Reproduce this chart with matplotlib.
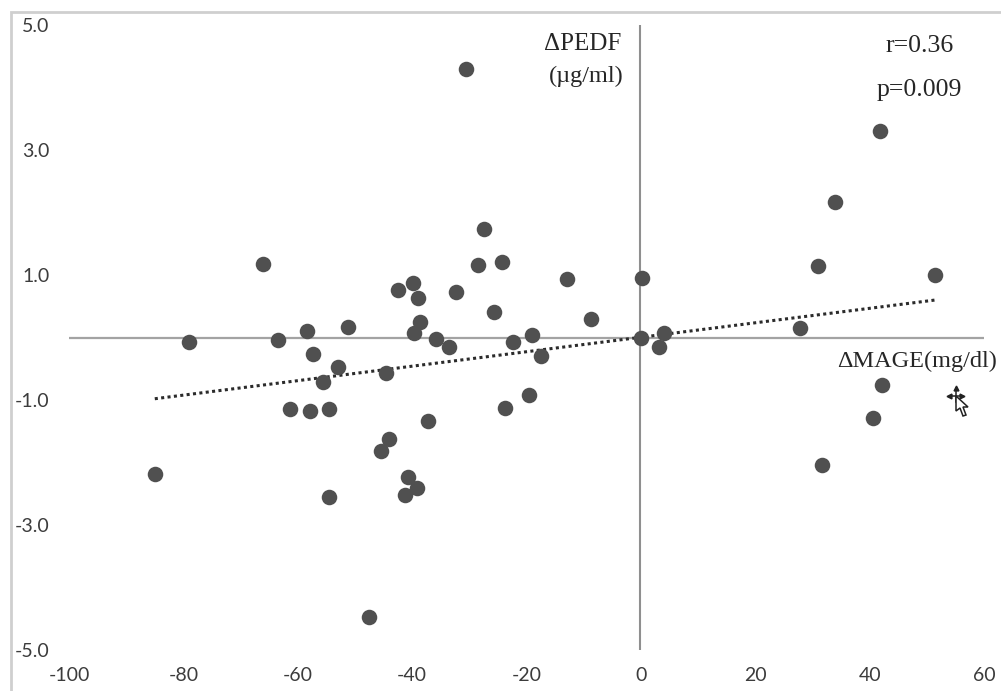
import matplotlib
matplotlib.use("Agg")
import matplotlib.pyplot as plt
from matplotlib.patches import Polygon, Rectangle

plt.rcParams["axes.unicode_minus"] = False

W, H = 1001, 691

mage = [-30.5, 41.9, 34.0, -27.4, -66.0, -28.4, -24.2, 31.0, 51.5, 0.2, -12.9,
        -39.8, -42.4, -32.3, -38.9, -25.6, -8.7, -38.7, -51.3, -58.3, 27.9,
        -39.6, -19.1, 4.1, 0.0, -63.4, -35.8, -79.1, -22.3, -33.5, 3.2, -57.4,
        -17.4, -53.0, -44.5, -55.5, 42.2, -19.5, -61.3, -57.8, -54.5, -23.7,
        -37.3, 40.6, -44.0, -45.4, 31.7, -85.0, -40.8, -39.1, -41.3, -54.6, -47.5]
pedf = [4.30, 3.30, 2.17, 1.74, 1.18, 1.16, 1.21, 1.14, 1.00, 0.95, 0.94,
        0.87, 0.76, 0.73, 0.63, 0.41, 0.30, 0.25, 0.17, 0.10, 0.15,
        0.07, 0.04, 0.07, 0.00, -0.04, -0.02, -0.07, -0.07, -0.15, -0.15, -0.26,
        -0.30, -0.47, -0.57, -0.71, -0.76, -0.92, -1.14, -1.18, -1.14, -1.13,
        -1.34, -1.29, -1.62, -1.82, -2.04, -2.18, -2.23, -2.41, -2.52, -2.55, -4.47]
trend_x = [-85.0, 51.5]
trend_y = [-0.98, 0.60]
x_ticks = [-100, -80, -60, -40, -20, 0, 20, 40, 60]
y_ticks = [-5.0, -3.0, -1.0, 1.0, 3.0, 5.0]

fig = plt.figure(figsize=(W / 100, H / 100), dpi=100)
ax = fig.add_axes([69 / W, 1 - 650 / H, 915 / W, 625 / H])
ax.set_xlim(-100, 60)
ax.set_ylim(-5, 5)
for s in ax.spines.values():
    s.set_visible(False)

ax.axhline(0, color="#a3a3a3", lw=1.6, zorder=1)
ax.axvline(-0.1, color="#8f8f8f", lw=1.5, zorder=1)
ax.plot(trend_x, trend_y, color="#2b2b2b", lw=2.2, ls=(0, (1, 1.1)), zorder=2)
ax.scatter(mage, pedf, s=125, color="#505050", lw=0, zorder=3)

ax.set_xticks(x_ticks)
ax.set_yticks(y_ticks)
ax.set_yticklabels([f"{v:.1f}" for v in y_ticks])
ax.tick_params(length=0, labelsize=14, labelcolor="#3c3c3c", labelfontfamily="Lato")
ax.tick_params(axis="x", pad=12)
ax.tick_params(axis="y", pad=14)

serif = {"family": "Liberation Serif", "color": "#262626"}
ax.text(-10.1, 4.70, "\u0394PEDF", fontsize=18, ha="center", va="center", **serif)
ax.text(-9.5, 4.17, "(\u00b5g/ml)", fontsize=17.5, ha="center", va="center", **serif)
ax.text(42.7, 4.66, "r=0.36", fontsize=18.5, ha="left", va="center", **serif)
ax.text(41.2, 3.96, "p=0.009", fontsize=18.5, ha="left", va="center", **serif)
ax.text(34.3, -0.38, "\u0394MAGE(mg/dl)", fontsize=17.5, ha="left", va="center", **serif)

# grey picture frame, drawn in pixels
fig.add_artist(Rectangle((11 / W, -0.01), 1.1, 1 - 12 / H + 0.01, fill=False,
                         ec="#cfcfcf", lw=2, transform=fig.transFigure))

# mouse cursor left in the screenshot
cross = [((950, 396), (961, 396)), ((955.5, 388), (955.5, 402))]
for (x0, y0), (x1, y1) in cross:
    fig.add_artist(plt.Line2D([x0 / W, x1 / W], [1 - y0 / H, 1 - y1 / H], color="#222222",
                              lw=1.1, transform=fig.transFigure, zorder=4))
heads = [(949, 396, "<"), (962, 396, ">"), (955.5, 388, "^")]
for x, y, m in heads:
    fig.add_artist(plt.Line2D([x / W], [1 - y / H], marker=m, ms=3.5, color="#222222",
                              transform=fig.transFigure, zorder=4))
arrow = [(956, 396), (956, 411), (960, 408), (963, 416), (966, 415), (963, 407), (968, 407)]
fig.add_artist(Polygon([(x / W, 1 - y / H) for x, y in arrow], closed=True, fc="white",
                       ec="#222222", lw=1.1, transform=fig.transFigure, zorder=5))

fig.savefig("out.png", dpi=100)
